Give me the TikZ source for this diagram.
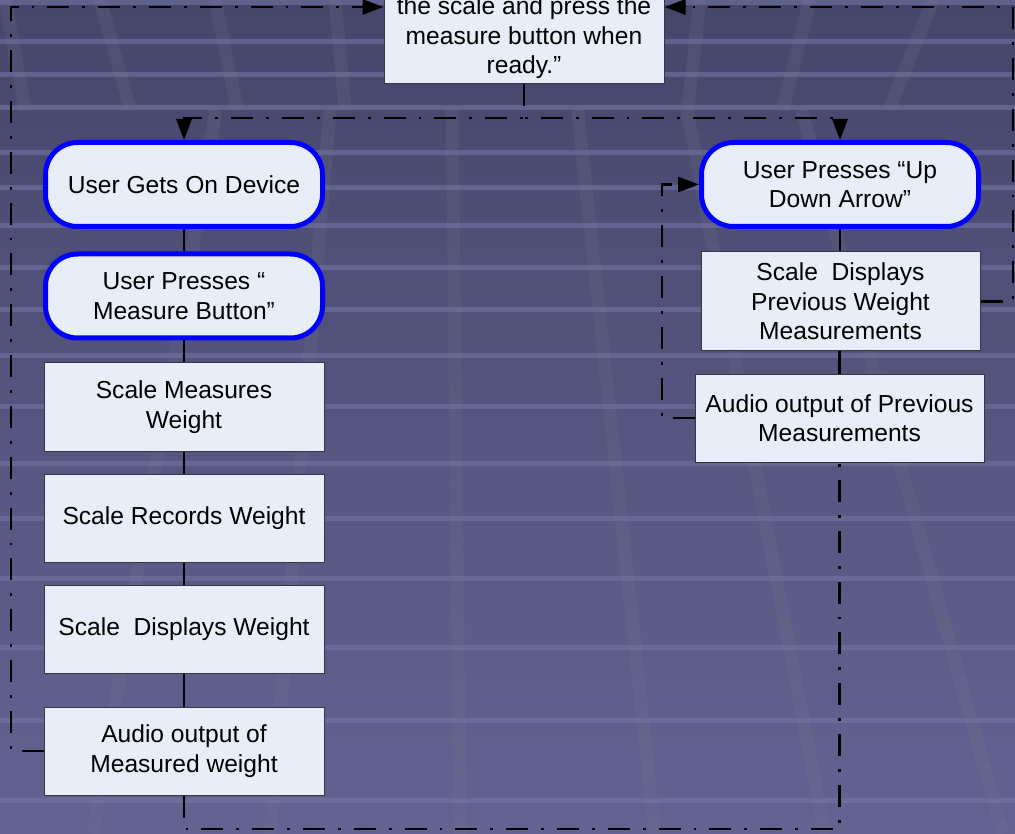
\documentclass[tikz,border=0pt]{standalone}
\usepackage{fontspec}
\setmainfont{Liberation Sans}
\usetikzlibrary{arrows.meta}
\definecolor{bgtop}{RGB}{70,70,107}
\definecolor{bgbot}{RGB}{99,99,146}
\definecolor{stripecol}{RGB}{118,118,168}
\definecolor{bandcol}{RGB}{120,120,140}
\definecolor{boxfill}{RGB}{232,238,248}
\definecolor{boxline}{RGB}{55,55,65}
\definecolor{termblue}{RGB}{0,0,255}
\begin{document}
\begin{tikzpicture}[x=1pt,y=-1pt,
  txt/.style={font=\fontsize{24.6}{29.5}\selectfont, align=center, text=black},
  procbox/.style={txt, draw=boxline, line width=1pt, fill=boxfill, inner sep=0pt},
  termbox/.style={txt, draw=termblue, line width=5pt, fill=boxfill, rounded corners=32pt, inner sep=0pt, minimum width=277pt, minimum height=84pt},
  solidlink/.style={line width=2.8pt, black},
  dashlink/.style={line width=2.8pt, black, dash pattern=on 22pt off 13pt on 2.8pt off 13pt},
  arr/.style={-{Triangle[length=21pt,width=15pt]}},
]
\useasboundingbox (0,0) rectangle (1015,834);
% background
\shade[top color=bgtop, bottom color=bgbot] (0,0) rectangle (1015,834);
\foreach \yy in {3,42,75,108,153,188,226,268,310,356,406,463,518,578,647,720,800}
  \fill[stripecol, opacity=0.55] (0,\yy-2.5) rectangle (1015,\yy+2.5);
\foreach \xb in {93,270,460,655,825,1003}
  \draw[bandcol, opacity=0.18, line width=13pt] ({438+0.6435*(\xb-438)},110) -- (\xb,834);
\foreach \xa/\xc in {5/25,100/130,215/237,335/345,700/688,810/783,933/890}
  \draw[bandcol, opacity=0.18, line width=13pt] (\xa,0) -- (\xc,108);

% top box
\node[procbox, minimum width=280pt, minimum height=140pt, anchor=south] (top) at (524,84) {};
\node[txt] (toptext) at (524,38) {the scale and press the\\measure button when\\ready.”};

% left column
\node[termbox] (n1) at (184,184.5) {User Gets On Device};
\node[termbox] (n2) at (184,296) {User Presses “\\Measure Button”};
\node[procbox, minimum width=280pt, minimum height=88pt] (n3) at (184,407) {Scale Measures\\Weight};
\node[procbox, minimum width=280pt, minimum height=88pt] (n4) at (184,518) {Scale Records Weight};
\node[procbox, minimum width=280pt, minimum height=88pt] (n5) at (184,629) {Scale\ \ Displays Weight};
\node[procbox, minimum width=280pt, minimum height=88pt] (n6) at (184,751) {Audio output of\\Measured weight};

% right column
\node[termbox] (r1) at (840,184.5) {User Presses “Up\\Down Arrow”};
\node[procbox, minimum width=279pt, minimum height=99pt] (r2) at (840.5,301.5) {Scale\ \ Displays\\Previous Weight\\Measurements};
\node[procbox, minimum width=289pt, minimum height=88pt] (r3) at (839.5,418) {Audio output of Previous\\Measurements};

% helper coordinates
\coordinate (tj) at (524,118);
\coordinate (tl) at (11,7);
\coordinate (tr) at (1013,7);
\coordinate (ml) at (662,0);
\coordinate (bl) at (0,829);

% solid connectors
\draw[solidlink] (n1.south) -- (n2.north);
\draw[solidlink] (n2.south) -- (n3.north);
\draw[solidlink] (n3.south) -- (n4.north);
\draw[solidlink] (n4.south) -- (n5.north);
\draw[solidlink] (n5.south) -- (n6.north);
\draw[solidlink] (r1.south) -- (r1.south |- r2.north);
\draw[solidlink] (r2.south -| r3.south) -- (r3.north);

% dash-dot connectors
\draw[dashlink, arr] (top.south) -- (tj) -| (n1.north);
\draw[dashlink, arr] (top.south) -- (tj) -| (r1.north);
\draw[dashlink, arr] (n6.west) -- (n6.west -| tl) -- (tl) -- (tl -| top.west);
\draw[dashlink, arr] (r2.east) -- (r2.east -| tr) -- (tr) -- (tr -| top.east);
\draw[dashlink, arr] (r3.west) -- (r3.west -| ml) -- (ml |- r1.west) -- (r1.west);
\draw[dashlink] (n6.south) -- (n6.south |- bl) -| (r3.south);
\end{tikzpicture}
\end{document}
